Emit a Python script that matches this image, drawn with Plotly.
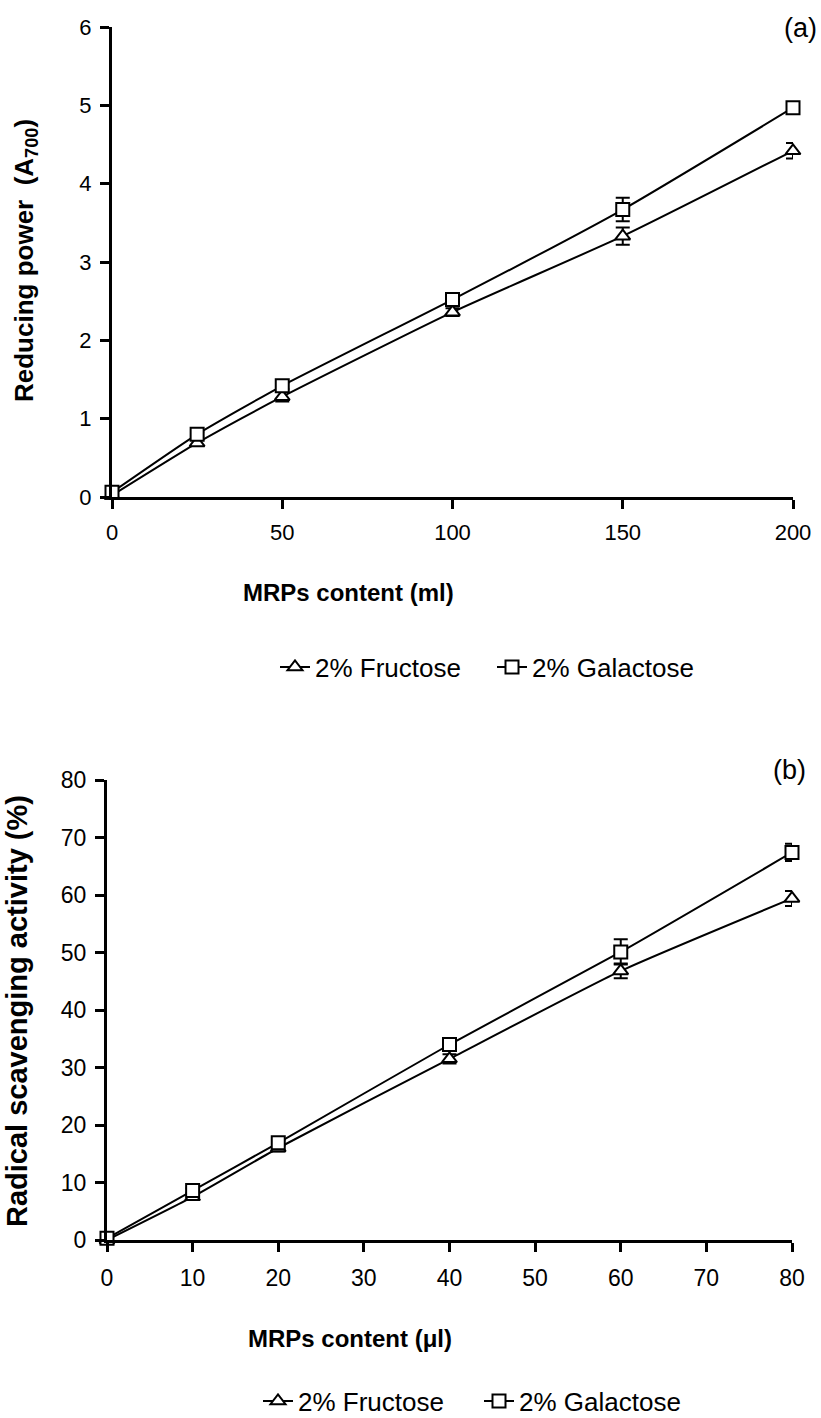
import plotly.graph_objects as go

# ---- Data panel (a) ----
x_a = [0, 25, 50, 100, 150, 200]
fru_a = [0.02, 0.69, 1.28, 2.36, 3.33, 4.42]
fru_a_err = [0.02, 0.04, 0.06, 0.05, 0.11, 0.10]
gal_a = [0.06, 0.80, 1.42, 2.52, 3.67, 4.97]
gal_a_err = [0.02, 0.03, 0.04, 0.06, 0.15, 0.03]
yticks_a = [0, 1, 2, 3, 4, 5, 6]
xticks_a = [0, 50, 100, 150, 200]

# ---- Data panel (b) ----
x_b = [0, 10, 20, 40, 60, 80]
fru_b = [0.0, 7.5, 16.0, 31.5, 46.8, 59.4]
fru_b_err = [0.2, 0.5, 0.6, 0.8, 1.3, 1.3]
gal_b = [0.3, 8.6, 16.9, 34.0, 50.1, 67.4]
gal_b_err = [0.2, 0.4, 0.5, 0.6, 2.2, 1.5]
yticks_b = [0, 10, 20, 30, 40, 50, 60, 70, 80]
xticks_b = [0, 10, 20, 30, 40, 50, 60, 70, 80]

series_names = ["2% Fructose", "2% Galactose"]

W, H = 821, 1418
FONT = "Liberation Sans, Arial, sans-serif"


def px(x):
    return x / W


def py(y):
    return 1 - y / H


fig = go.Figure()


def add_series(x, y, err, name, symbol, xa, ya, leg):
    fig.add_trace(go.Scatter(
        x=x, y=y, name=name, mode="lines+markers",
        xaxis=xa, yaxis=ya, legend=leg, showlegend=True,
        line=dict(color="black", width=2, shape="spline", smoothing=0.5),
        marker=dict(symbol=symbol, size=13, color="white",
                    line=dict(color="black", width=2)),
        error_y=dict(type="data", array=err, visible=True, color="black",
                     thickness=2, width=7),
        cliponaxis=False,
    ))


add_series(x_a, fru_a, fru_a_err, series_names[0], "triangle-up", "x", "y", "legend")
add_series(x_a, gal_a, gal_a_err, series_names[1], "square", "x", "y", "legend")
add_series(x_b, fru_b, fru_b_err, series_names[0], "triangle-up", "x2", "y2", "legend2")
add_series(x_b, gal_b, gal_b_err, series_names[1], "square", "x2", "y2", "legend2")

axis_common = dict(showline=True, linecolor="black", linewidth=3,
                   ticks="outside", ticklen=9, tickwidth=3, tickcolor="black",
                   showgrid=False, zeroline=False, automargin=False)

fig.update_layout(
    template="none",
    width=W, height=H,
    margin=dict(l=0, r=0, t=0, b=0, autoexpand=False),
    paper_bgcolor="white", plot_bgcolor="white",
    font=dict(family=FONT, color="black"),
    xaxis=dict(domain=[px(112), px(793)], range=[0, 200], tickvals=xticks_a,
               anchor="y", tickfont=dict(size=22), ticklabelstandoff=5, **axis_common),
    yaxis=dict(domain=[py(497), py(27)], range=[0, 6], tickvals=yticks_a,
               anchor="x", tickfont=dict(size=22), ticklabelstandoff=4, **axis_common),
    xaxis2=dict(domain=[px(107), px(792)], range=[0, 80], tickvals=xticks_b,
                anchor="y2", tickfont=dict(size=23), ticklabelstandoff=6, **axis_common),
    yaxis2=dict(domain=[py(1240), py(780)], range=[0, 80], tickvals=yticks_b,
                anchor="x2", tickfont=dict(size=23), ticklabelstandoff=4, **axis_common),
    legend=dict(orientation="h", x=px(275), y=py(667), xanchor="left", yanchor="middle",
                font=dict(size=26), bgcolor="rgba(0,0,0,0)", itemwidth=30,
                entrywidth=172, entrywidthmode="pixels"),
    legend2=dict(orientation="h", x=px(258), y=py(1401), xanchor="left", yanchor="middle",
                 font=dict(size=26), bgcolor="rgba(0,0,0,0)", itemwidth=30,
                 entrywidth=176, entrywidthmode="pixels"),
    annotations=[
        dict(text="(a)", x=px(800), y=py(28), xref="paper", yref="paper",
             showarrow=False, font=dict(size=27), xanchor="center", yanchor="middle"),
        dict(text="(b)", x=px(789), y=py(770), xref="paper", yref="paper",
             showarrow=False, font=dict(size=27), xanchor="center", yanchor="middle"),
        dict(text="<b>Reducing power  (A<sub>700</sub>)</b>", x=px(25), y=py(261),
             xref="paper", yref="paper", showarrow=False, textangle=-90,
             font=dict(size=26), xanchor="center", yanchor="middle"),
        dict(text="<b>Radical scavenging activity (%)</b>", x=px(17), y=py(1011),
             xref="paper", yref="paper", showarrow=False, textangle=-90,
             font=dict(size=29), xanchor="center", yanchor="middle"),
        dict(text="<b>MRPs content (ml)</b>", x=px(348), y=py(592),
             xref="paper", yref="paper", showarrow=False,
             font=dict(size=24), xanchor="center", yanchor="middle"),
        dict(text="<b>MRPs content (μl)</b>", x=px(350), y=py(1338),
             xref="paper", yref="paper", showarrow=False,
             font=dict(size=24), xanchor="center", yanchor="middle"),
    ],
)

fig.write_html("out.html")
